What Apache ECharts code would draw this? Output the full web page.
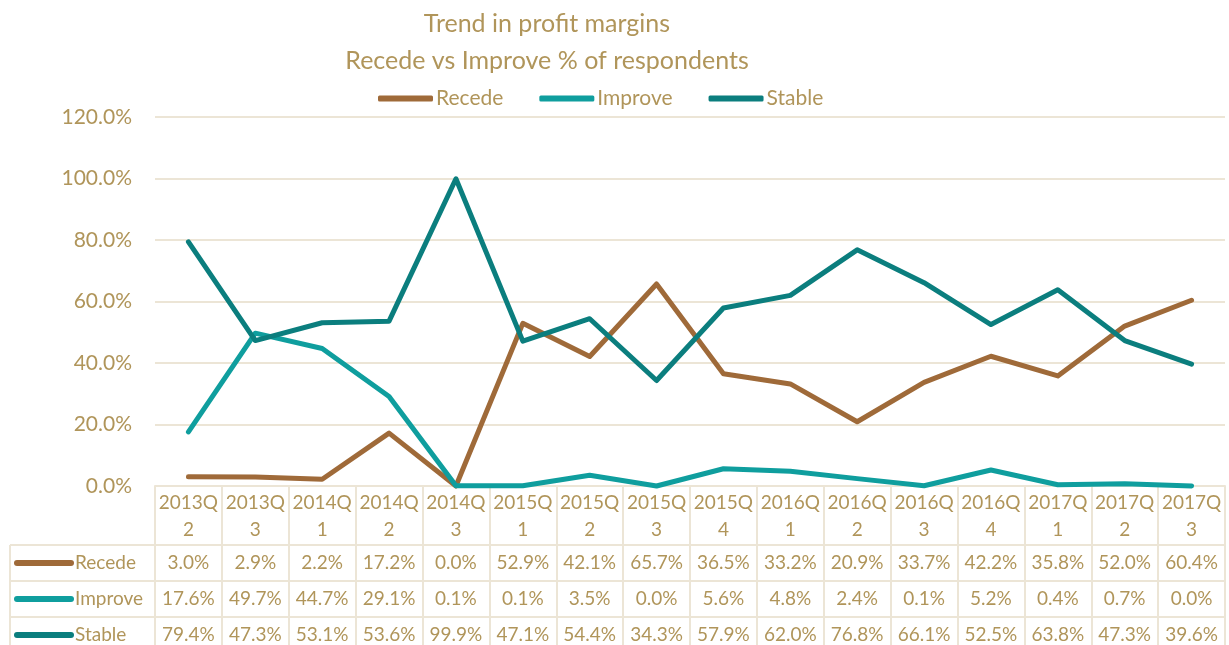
<!DOCTYPE html>
<html>
<head>
<meta charset="utf-8">
<script src="https://cdn.jsdelivr.net/npm/echarts@6/dist/echarts.min.js"></script>
<style>
  html, body { margin: 0; padding: 0; background: #fff; }
  #chart { width: 1229px; height: 645px; }
</style>
</head>
<body>
<div id="chart"></div>
<script>
const quarters = ["2013Q2", "2013Q3", "2014Q1", "2014Q2", "2014Q3", "2015Q1", "2015Q2", "2015Q3",
  "2015Q4", "2016Q1", "2016Q2", "2016Q3", "2016Q4", "2017Q1", "2017Q2", "2017Q3"];
const recede = [3.0, 2.9, 2.2, 17.2, 0.0, 52.9, 42.1, 65.7, 36.5, 33.2, 20.9, 33.7, 42.2, 35.8, 52.0, 60.4];
const improve = [17.6, 49.7, 44.7, 29.1, 0.1, 0.1, 3.5, 0.0, 5.6, 4.8, 2.4, 0.1, 5.2, 0.4, 0.7, 0.0];
const stable = [79.4, 47.3, 53.1, 53.6, 99.9, 47.1, 54.4, 34.3, 57.9, 62.0, 76.8, 66.1, 52.5, 63.8, 47.3, 39.6];
const yMin = 0, yMax = 120, yStep = 20;

const textColor = "#b0955a";
const lineColor = "#ece5d6";
const font = "Lato, 'Noto Sans', sans-serif";

const seriesDefs = [
  { name: "Recede", data: recede, color: "#9f6a39" },
  { name: "Improve", data: improve, color: "#0f9e9e" },
  { name: "Stable", data: stable, color: "#0b7e7e" },
];

const chart = echarts.init(document.getElementById("chart"));

const option = {
  animation: false,
  backgroundColor: "#fff",
  textStyle: { fontFamily: font, color: textColor },
  title: {
    text: "Trend in profit margins\nRecede vs Improve % of respondents",
    left: 542,
    top: 0,
    textAlign: "center",
    textStyle: { fontFamily: font, fontSize: 25, fontWeight: "normal", color: textColor, lineHeight: 37 },
  },
  legend: {
    left: 373,
    top: 83,
    itemWidth: 55,
    itemHeight: 6,
    itemGap: 36,
    icon: "roundRect",
    textStyle: { fontFamily: font, fontSize: 21, color: textColor, padding: [0, 0, 0, -2] },
    data: seriesDefs.map((s) => s.name),
  },
  grid: { left: 155, right: 4, top: 117, bottom: 159 },
  xAxis: {
    type: "category",
    data: quarters,
    boundaryGap: true,
    axisLine: { show: true, lineStyle: { color: lineColor, width: 2 } },
    axisTick: { show: true, inside: false, length: 160, lineStyle: { color: lineColor, width: 2 } },
    axisLabel: {
      color: textColor,
      fontFamily: font,
      fontSize: 19,
      lineHeight: 27,
      margin: 3,
      interval: 0,
      formatter: (v) => v.slice(0, 5) + "\n" + v.slice(5),
    },
  },
  yAxis: {
    type: "value",
    min: yMin,
    max: yMax,
    interval: yStep,
    axisLine: { show: false },
    axisTick: { show: false },
    splitLine: { lineStyle: { color: lineColor, width: 2 } },
    axisLabel: {
      color: textColor,
      fontFamily: font,
      fontSize: 21,
      margin: 23,
      formatter: (v) => v.toFixed(1) + "%",
    },
  },
  series: seriesDefs.map((s) => ({
    name: s.name,
    type: "line",
    data: s.data,
    symbol: "none",
    clip: false,
    color: s.color,
    lineStyle: { color: s.color, width: 5, cap: "round", join: "round" },
  })),
};
chart.setOption(option);

// data table under the axis
const rowTops = [545, 581, 617];
const rowH = 36;
const tableLeft = 10;
const p0 = chart.convertToPixel({ xAxisIndex: 0 }, 0);
const p1 = chart.convertToPixel({ xAxisIndex: 0 }, 1);
const colW = p1 - p0;
const tableRight = chart.convertToPixel({ xAxisIndex: 0 }, quarters.length - 1) + colW / 2;

const graphics = [];
rowTops.forEach((top) => {
  graphics.push({
    type: "line",
    shape: { x1: tableLeft, y1: top, x2: tableRight, y2: top },
    style: { stroke: lineColor, lineWidth: 2 },
  });
});
graphics.push({
  type: "line",
  shape: { x1: tableLeft, y1: rowTops[0], x2: tableLeft, y2: 645 },
  style: { stroke: lineColor, lineWidth: 2 },
});

seriesDefs.forEach((s, r) => {
  const cy = rowTops[r] + rowH / 2;
  graphics.push({
    type: "line",
    shape: { x1: 17, y1: cy, x2: 71, y2: cy },
    style: { stroke: s.color, lineWidth: 6, lineCap: "round" },
  });
  graphics.push({
    type: "text",
    x: 75,
    y: cy,
    style: { text: s.name, fill: textColor, font: "19px " + font, textVerticalAlign: "middle" },
  });
  s.data.forEach((v, i) => {
    graphics.push({
      type: "text",
      x: chart.convertToPixel({ xAxisIndex: 0 }, i),
      y: cy,
      style: {
        text: v.toFixed(1) + "%",
        fill: textColor,
        font: "19px " + font,
        textAlign: "center",
        textVerticalAlign: "middle",
      },
    });
  });
});

chart.setOption({ graphic: graphics });
</script>
</body>
</html>
